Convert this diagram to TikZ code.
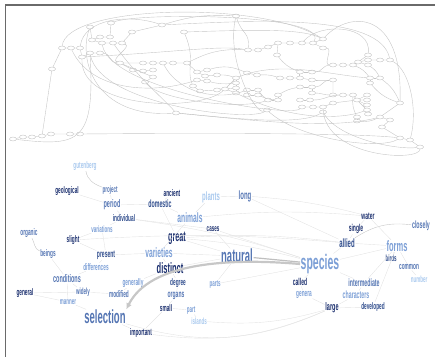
\documentclass[tikz,border=0pt]{standalone}
\usepackage{fontspec}
\newfontfamily\wordfont[FakeStretch=0.5]{Liberation Sans}
\usetikzlibrary{shapes.geometric,arrows.meta}

\definecolor{framegray}{HTML}{6A6A6A}
\definecolor{gline}{HTML}{C6C6C6}
\definecolor{wline}{HTML}{E4E4E4}
\definecolor{wc1}{HTML}{1B2F6E}
\definecolor{wc2}{HTML}{2F4C8C}
\definecolor{wc3}{HTML}{5475B3}
\definecolor{wc4}{HTML}{7C9FD6}
\definecolor{wc5}{HTML}{A9C9EE}

\tikzset{
  gnode/.style={ellipse, draw=black!30, line width=0.3pt, minimum width=7pt, minimum height=4pt, inner sep=0pt},
  gedge/.style={draw=gline, line width=0.4pt},
  wedge/.style={draw=wline, line width=0.4pt},
  word/.style={inner sep=0.5pt, font=\wordfont\bfseries\fontsize{#1}{#1}\selectfont},
}

\begin{document}
\begin{tikzpicture}[x=1pt, y=-1pt]
\useasboundingbox (0, 0) rectangle (435, 357);

\draw [framegray, line width=1.5pt] (435, 5)--(5.5, 5)--(5.5, 357);

% upper graph
\node [gnode] (a1) at (62, 48) {};
\node [gnode] (a2) at (71, 48) {};
\node [gnode] (a3) at (80, 48) {};
\node [gnode] (a4) at (52, 69) {};
\node [gnode] (a5) at (82, 57) {};
\node [gnode] (a6) at (90, 53) {};
\node [gnode] (a7) at (100, 53) {};
\node [gnode] (a8) at (90, 27) {};
\node [gnode] (a9) at (92, 40) {};
\node [gnode] (a10) at (100, 37) {};
\node [gnode] (a11) at (110, 37) {};
\node [gnode] (a12) at (102, 43) {};
\node [gnode] (a13) at (113, 43) {};
\node [gnode] (a14) at (122, 43) {};
\node [gnode] (a15) at (111, 23) {};
\node [gnode] (a16) at (132, 32) {};
\node [gnode] (a17) at (162, 25) {};
\node [gnode] (a18) at (184, 32) {};

\node [gnode] (b1) at (120, 63) {};
\node [gnode] (b2) at (133, 70) {};
\node [gnode] (b3) at (143, 71) {};
\node [gnode] (b4) at (153, 70) {};
\node [gnode] (b5) at (143, 63) {};
\node [gnode] (b6) at (153, 63) {};
\node [gnode] (b7) at (163, 63) {};
\node [gnode] (b8) at (173, 63) {};
\node [gnode] (b9) at (187, 63) {};
\node [gnode] (b10) at (153, 77) {};
\node [gnode] (b11) at (145, 82) {};
\node [gnode] (b12) at (197, 72) {};
\node [gnode] (b13) at (207, 70) {};
\node [gnode] (b14) at (205, 76) {};
\node [gnode] (b15) at (217, 75) {};
\node [gnode] (b16) at (197, 80) {};
\node [gnode] (b17) at (207, 81) {};
\node [gnode] (b18) at (193, 86) {};
\node [gnode] (b19) at (200, 91) {};
\node [gnode] (b20) at (217, 90) {};
\node [gnode] (b21) at (176, 113) {};

\node [gnode] (c1) at (236, 16) {};
\node [gnode] (c2) at (248, 50) {};
\node [gnode] (c3) at (258, 50) {};
\node [gnode] (c4) at (268, 47) {};
\node [gnode] (c5) at (278, 43) {};
\node [gnode] (c6) at (290, 43) {};
\node [gnode] (c7) at (302, 43) {};
\node [gnode] (c8) at (313, 43) {};
\node [gnode] (c9) at (323, 39) {};
\node [gnode] (c10) at (323, 48) {};
\node [gnode] (c11) at (277, 55) {};
\node [gnode] (c12) at (236, 78) {};
\node [gnode] (c13) at (236, 83) {};
\node [gnode] (c14) at (236, 88) {};
\node [gnode] (c15) at (236, 93) {};
\node [gnode] (c16) at (247, 73) {};
\node [gnode] (c17) at (257, 75) {};
\node [gnode] (c18) at (247, 90) {};
\node [gnode] (c19) at (258, 90) {};
\node [gnode] (c20) at (247, 95) {};
\node [gnode] (c21) at (258, 95) {};
\node [gnode] (c22) at (225, 89) {};
\node [gnode] (c23) at (268, 100) {};
\node [gnode] (c24) at (278, 100) {};
\node [gnode] (c25) at (278, 95) {};
\node [gnode] (c26) at (267, 110) {};
\node [gnode] (c27) at (280, 78) {};
\node [gnode] (c28) at (290, 78) {};
\node [gnode] (c29) at (300, 78) {};
\node [gnode] (c30) at (312, 80) {};
\node [gnode] (c31) at (300, 72) {};
\node [gnode] (c32) at (312, 72) {};
\node [gnode] (c33) at (300, 87) {};
\node [gnode] (c34) at (312, 87) {};
\node [gnode] (c35) at (312, 93) {};
\node [gnode] (c36) at (300, 100) {};
\node [gnode] (c37) at (310, 100) {};
\node [gnode] (c38) at (302, 107) {};
\node [gnode] (c39) at (313, 107) {};
\node [gnode] (c40) at (323, 107) {};
\node [gnode] (c41) at (333, 103) {};
\node [gnode] (c42) at (323, 112) {};

\node [gnode] (d1) at (333, 65) {};
\node [gnode] (d2) at (343, 65) {};
\node [gnode] (d3) at (353, 65) {};
\node [gnode] (d4) at (358, 62) {};
\node [gnode] (d5) at (368, 55) {};
\node [gnode] (d6) at (368, 60) {};
\node [gnode] (d7) at (368, 65) {};
\node [gnode] (d8) at (380, 60) {};
\node [gnode] (d9) at (390, 60) {};
\node [gnode] (d10) at (333, 80) {};
\node [gnode] (d11) at (333, 95) {};
\node [gnode] (d12) at (343, 95) {};
\node [gnode] (d13) at (353, 95) {};
\node [gnode] (d14) at (357, 100) {};
\node [gnode] (d15) at (367, 95) {};
\node [gnode] (d16) at (367, 100) {};
\node [gnode] (d17) at (367, 105) {};
\node [gnode] (d18) at (367, 110) {};
\node [gnode] (d19) at (368, 114) {};
\node [gnode] (d20) at (370, 78) {};
\node [gnode] (d21) at (380, 78) {};
\node [gnode] (d22) at (370, 83) {};
\node [gnode] (d23) at (400, 103) {};
\node [gnode] (d24) at (380, 117) {};
\node [gnode] (d25) at (390, 120) {};
\node [gnode] (d26) at (382, 127) {};
\node [gnode] (d27) at (400, 138) {};
\node [gnode] (d28) at (410, 140) {};
\node [gnode] (d29) at (420, 147) {};
\node [gnode] (d30) at (357, 117) {};
\node [gnode] (d31) at (357, 121) {};

\node [gnode] (e1) at (13, 139) {};
\node [gnode] (e2) at (23, 137) {};
\node [gnode] (e3) at (32, 137) {};
\node [gnode] (e4) at (42, 136) {};
\node [gnode] (e5) at (51, 134) {};
\node [gnode] (e6) at (70, 134) {};
\node [gnode] (e7) at (80, 134) {};

\draw [gedge] (e1)--(e2)--(e3)--(e4)--(e5)--(e6)--(e7);
\draw [gedge] (e4)--(a4)--(a1)--(a2)--(a3)--(a5)--(a6)--(a7);
\draw [gedge] (a8)--(a9)--(a12)--(a13)--(a14);
\draw [gedge] (a9)--(a10)--(a11)--(a15);
\draw [gedge] (a17)--(a16)--(a14);
\draw [gedge] (b1)--(b5)--(b6)--(b7)--(b8)--(b9)--(b12)--(b13);
\draw [gedge] (b1)--(b2)--(b3)--(b4);
\draw [gedge] (b1)--(b10)--(b11);
\draw [gedge] (b12)--(b14)--(b15);
\draw [gedge] (b16)--(b17);
\draw [gedge] (b18)--(b19)--(b20);
\draw [gedge] (c2)--(c3)--(c4)--(c5)--(c6)--(c7)--(c8)--(c9);
\draw [gedge] (c8)--(c10);
\draw [gedge] (c5)--(c11);
\draw [gedge] (c12)--(c13)--(c14)--(c15);
\draw [gedge] (c16)--(c17);
\draw [gedge] (c18)--(c19);
\draw [gedge] (c20)--(c21);
\draw [gedge] (c12)--(c22)--(c14);
\draw [gedge] (c22)--(c15);
\draw [gedge] (c23)--(c24)--(c25);
\draw [gedge] (c27)--(c28)--(c29)--(c30);
\draw [gedge] (c31)--(c32);
\draw [gedge] (c33)--(c34)--(c35);
\draw [gedge] (c36)--(c37);
\draw [gedge] (c38)--(c39)--(c40)--(c41);
\draw [gedge] (d1)--(d2)--(d3)--(d4)--(d6)--(d8)--(d9);
\draw [gedge] (d5)--(d4)--(d7);
\draw [gedge] (d10)--(d11)--(d12)--(d13)--(d14)--(d15);
\draw [gedge] (d16)--(d14)--(d17);
\draw [gedge] (d14)--(d18)--(d19);
\draw [gedge] (d21)--(d20)--(d22);
\draw [gedge] (d23)--(d24)--(d25)--(d26)--(d27)--(d28)--(d29);
\draw [gedge] (d30)--(d31);

\draw [gedge] (a1) .. controls (66, 5) and (260, 0) .. (c9);
\draw [gedge] (a3) .. controls (84, 18) and (130, 14) .. (a17);
\draw [gedge] (a15) .. controls (140, 12) and (330, 14) .. (c8);
\draw [gedge] (a17) .. controls (260, 20) and (380, 14) .. (d9);
\draw [gedge] (c9) .. controls (350, 10) and (403, 10) .. (d23);
\draw [gedge] (c7) .. controls (320, 22) and (372, 25) .. (d5);
\draw [gedge] (c1) to [bend right=10] (a17);
\draw [gedge] (c1) .. controls (242, 35) and (250, 32) .. (c2);
\draw [gedge] (c1) .. controls (226, 60) and (255, 115) .. (c26);
\draw [gedge] (a18) .. controls (196, 60) and (186, 70) .. (b18);
\draw [gedge] (a18) .. controls (250, 30) and (300, 28) .. (c9);
\draw [gedge] (e1) .. controls (80, 147) and (95, 142) .. (a6);
\draw [gedge] (a7) to [out=0, in=180] (b1);
\draw [gedge] (a14) to [out=-20, in=160] (b1);
\draw [gedge] (a5) .. controls (180, 52) and (220, 45) .. (c2);
\draw [gedge] (a5) .. controls (80, 110) and (200, 112) .. (c22);
\draw [gedge] (a6) .. controls (100, 105) and (250, 122) .. (c26);
\draw [gedge] (a12) .. controls (110, 90) and (290, 118) .. (c38);
\draw [gedge] (a13) .. controls (140, 80) and (165, 100) .. (b21);
\draw [gedge] (a8) .. controls (78, 60) and (95, 118) .. (b21);
\draw [gedge] (b21) .. controls (230, 118) and (300, 126) .. (c42);
\draw [gedge] (b11) .. controls (160, 100) and (240, 110) .. (c23);
\draw [gedge] (e7) .. controls (200, 133) and (360, 133) .. (d27);
\draw [gedge] (c26) .. controls (300, 140) and (380, 150) .. (d27);
\draw [gedge] (c42) .. controls (340, 140) and (400, 150) .. (d29);
\draw [gedge] (c40) .. controls (325, 158) and (420, 162) .. (d29);
\draw [gedge] (d9) .. controls (410, 70) and (418, 110) .. (d28);
\draw [gedge] (b21) .. controls (250, 120) and (330, 130) .. (d24);
\draw [gedge] (b13) to [bend left=20] (c16);
\draw [gedge] (b15) to [bend left=10] (c12);
\draw [gedge] (b17) to [bend right=10] (c13);
\draw [gedge] (b20) to [bend left=10] (c22);
\draw [gedge] (b9) to [bend left=15] (c2);
\draw [gedge] (c17) to [bend left=10] (c27);
\draw [gedge] (c19) to [bend right=10] (c23);
\draw [gedge] (c21) to [bend right=10] (c24);
\draw [gedge] (c25) to [bend left=10] (c33);
\draw [gedge] (c29) to [bend left=10] (c31);
\draw [gedge] (c11) to [bend right=15] (c31);
\draw [gedge] (c10) to [out=0, in=180] (d1);
\draw [gedge] (c32) to [out=0, in=180] (d1);
\draw [gedge] (c30) to [out=0, in=180] (d10);
\draw [gedge] (c34) to [out=0, in=180] (d10);
\draw [gedge] (c35) to [out=0, in=180] (d11);
\draw [gedge] (c37) to [out=0, in=180] (d12);
\draw [gedge] (c41)--(d14);
\draw [gedge] (d13) to [bend right=15] (d30);
\draw [gedge] (d31) to [bend right=15] (d24);
\draw [gedge] (d3) to [bend left=15] (d20);
\draw [gedge] (d7) to [bend left=15] (d21);
\draw [gedge] (d21) to [bend left=15] (d23);
\draw [gedge] (d22) to [bend right=15] (d23);
\draw [gedge] (c12) .. controls (280, 60) and (330, 75) .. (d20);
\draw [gedge] (c15) .. controls (290, 120) and (340, 120) .. (d18);
\draw [gedge] (b7) .. controls (180, 95) and (220, 100) .. (c18);
\draw [gedge] (a2) .. controls (90, 90) and (150, 95) .. (b16);

% word graph
\node [word=9.5, text=wc5] (gutenberg) at (85, 166) {gutenberg};
\node [word=9, text=wc3] (project) at (110, 190) {project};
\node [word=9.5, text=wc1] (geological) at (67, 191) {geological};
\node [word=9.5, text=wc1] (ancient) at (172, 193) {ancient};
\node [word=12, text=wc5] (plants) at (211, 197) {plants};
\node [word=11, text=wc3] (period) at (112, 205) {period};
\node [word=10.5, text=wc2] (domestic) at (160, 204) {domestic};
\node [word=9.5, text=wc2] (individual) at (124, 218) {individual};
\node [word=13.5, text=wc4] (animals) at (190, 218) {animals};
\node [word=9, text=wc4] (variations) at (102, 229) {variations};
\node [word=9, text=wc1] (cases) at (213, 229) {cases};
\node [word=9.5, text=wc3] (organic) at (29, 233) {organic};
\node [word=14.5, text=wc1] (great) at (177, 238) {great};
\node [word=9.5, text=wc1] (slight) at (73, 240) {slight};
\node [word=9.5, text=wc3] (beings) at (48, 254) {beings};
\node [word=10, text=wc2] (present) at (106, 255) {present};
\node [word=13.5, text=wc4] (varieties) at (159, 253) {varieties};
\node [word=9.5, text=wc4] (differences) at (96, 267) {differences};
\node [word=15, text=wc1] (distinct) at (170, 268) {distinct};
\node [word=11, text=wc3] (conditions) at (67, 279) {conditions};
\node [word=9.5, text=wc4] (generally) at (133, 283) {generally};
\node [word=9.5, text=wc2] (degree) at (178, 283) {degree};
\node [word=9, text=wc4] (parts) at (215, 284) {parts};
\node [word=9.5, text=wc1] (general) at (25, 293) {general};
\node [word=9, text=wc3] (widely) at (83, 292) {widely};
\node [word=9.5, text=wc3] (modified) at (119, 294) {modified};
\node [word=10, text=wc3] (organs) at (176, 296) {organs};
\node [word=9, text=wc4] (manner) at (68, 302) {manner};
\node [word=9.5, text=wc1] (small) at (166, 308) {small};
\node [word=9, text=wc4] (part) at (191, 310) {part};
\node [word=19, text=wc3] (selection) at (105, 317) {selection};
\node [word=9, text=wc5] (islands) at (199, 321) {islands};
\node [word=9.5, text=wc1] (important) at (141, 333) {important};
\node [word=12, text=wc3] (long) at (245, 196) {long};
\node [word=10, text=wc1] (water) at (368, 216) {water};
\node [word=10, text=wc1] (single) at (356, 229) {single};
\node [word=10.5, text=wc3] (closely) at (421, 226) {closely};
\node [word=12, text=wc2] (allied) at (347, 243) {allied};
\node [word=15, text=wc4] (forms) at (397, 246) {forms};
\node [word=19, text=wc3] (natural) at (237, 256) {natural};
\node [word=21, text=wc4] (species) at (320, 264) {species};
\node [word=9, text=wc2] (birds) at (391, 258) {birds};
\node [word=9.5, text=wc3] (common) at (409, 267) {common};
\node [word=9, text=wc5] (number) at (419, 279) {number};
\node [word=10, text=wc1] (called) at (300, 282) {called};
\node [word=10.5, text=wc3] (intermediate) at (364, 283) {intermediate};
\node [word=9.5, text=wc4] (genera) at (304, 294.5) {genera};
\node [word=10.5, text=wc4] (characters) at (356, 295) {characters};
\node [word=11, text=wc1] (large) at (332, 308) {large};
\node [word=9.5, text=wc2] (developed) at (373, 307) {developed};

\draw [gedge] (gutenberg) to [out=-80, in=160] (project);
\draw [gedge] (organic) to [out=-60, in=160] (beings);
\draw [gedge] (closely) to [bend right=20] (allied);

\draw [wedge] (project)--(period);
\draw [wedge] (geological)--(period);
\draw [wedge] (period)--(individual);
\draw [wedge] (period)--(domestic);
\draw [wedge] (ancient)--(domestic);
\draw [wedge] (domestic)--(animals);
\draw [wedge] (domestic)--(great);
\draw [wedge] (plants)--(long);
\draw [wedge] (plants)--(animals);
\draw [wedge] (long)--(allied);
\draw [wedge] (long) to [bend left=5] (water);
\draw [wedge] (individual)--(variations);
\draw [wedge] (individual)--(cases);
\draw [wedge] (individual) to [bend left=5] (species);
\draw [wedge] (variations)--(slight);
\draw [wedge] (variations)--(present);
\draw [wedge] (slight)--(present);
\draw [wedge] (slight) to [bend left=4] (allied);
\draw [wedge] (present)--(varieties);
\draw [wedge] (present)--(differences);
\draw [wedge] (varieties)--(distinct);
\draw [wedge] (varieties)--(animals);
\draw [wedge] (varieties)--(natural);
\draw [wedge] (differences)--(conditions);
\draw [wedge] (conditions)--(manner);
\draw [wedge] (conditions)--(widely);
\draw [wedge] (conditions)--(beings);
\draw [wedge] (general)--(widely);
\draw [wedge] (general)--(manner);
\draw [wedge] (widely)--(modified);
\draw [wedge] (modified)--(generally);
\draw [wedge] (generally)--(distinct);
\draw [wedge] (distinct)--(degree);
\draw [wedge] (degree)--(organs);
\draw [wedge] (organs)--(small);
\draw [wedge] (small)--(part);
\draw [wedge] (part)--(islands);
\draw [wedge] (small)--(important);
\draw [wedge] (selection)--(important);
\draw [wedge] (selection)--(manner);
\draw [wedge] (distinct)--(natural);
\draw [wedge] (great)--(natural);
\draw [wedge] (great) to [bend left=5] (species);
\draw [wedge] (great) to [bend left=5] (allied);
\draw [wedge] (cases)--(natural);
\draw [wedge] (cases)--(species);
\draw [wedge] (parts)--(natural);
\draw [wedge] (parts)--(species);
\draw [wedge] (animals) to [bend left=5] (water);
\draw [wedge] (species)--(called);
\draw [wedge] (called)--(genera);
\draw [wedge] (species)--(intermediate);
\draw [wedge] (intermediate)--(characters);
\draw [wedge] (characters)--(large);
\draw [wedge] (large)--(developed);
\draw [wedge] (genera)--(large);
\draw [wedge] (species)--(allied);
\draw [wedge] (allied)--(single);
\draw [wedge] (single)--(water);
\draw [wedge] (allied)--(forms);
\draw [wedge] (forms)--(birds);
\draw [wedge] (forms)--(common);
\draw [wedge] (common)--(number);
\draw [wedge] (species)--(forms);
\draw [wedge] (intermediate)--(forms);
\draw [wedge] (water)--(forms);
\draw [wedge] (developed)--(forms);
\draw [wedge] (islands) to [bend right=10] (large);
\draw [wedge] (important) to [bend right=15] (large);
\draw [wedge] (selection) to [bend right=20] (large);

\draw [black!25, line width=1.2pt] (natural)--(species);
\draw [black!22, line width=2.2pt, -{Latex[length=6pt, width=6pt]}] (species.west) .. controls (230, 258) and (150, 262) .. (selection.north east);
\end{tikzpicture}
\end{document}
